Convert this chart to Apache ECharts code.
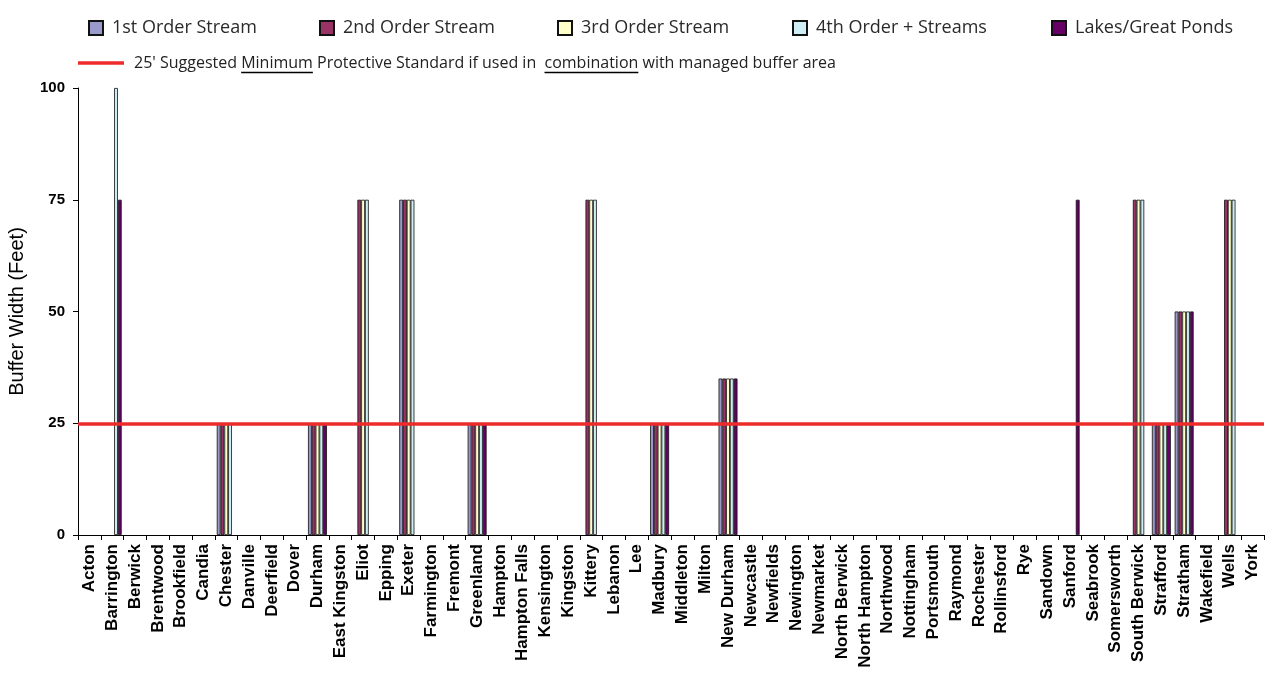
<!DOCTYPE html>
<html><head><meta charset="utf-8">
<script src="https://cdn.jsdelivr.net/npm/echarts@6/dist/echarts.min.js"></script>
<style>html,body{margin:0;padding:0;background:#fff}#c{width:1270px;height:675px}</style>
</head><body><div id="c"></div>
<script>
const towns = ['Acton','Barrington','Berwick','Brentwood','Brookfield','Candia','Chester','Danville','Deerfield','Dover',
 'Durham','East Kingston','Eliot','Epping','Exeter','Farmington','Fremont','Greenland','Hampton','Hampton Falls',
 'Kensington','Kingston','Kittery','Lebanon','Lee','Madbury','Middleton','Milton','New Durham','Newcastle',
 'Newfields','Newington','Newmarket','North Berwick','North Hampton','Northwood','Nottingham','Portsmouth','Raymond','Rochester',
 'Rollinsford','Rye','Sandown','Sanford','Seabrook','Somersworth','South Berwick','Strafford','Stratham','Wakefield',
 'Wells','York'];
const firstOrder = [0,0,0,0,0,0,25,0,0,0, 25,0,0,0,75,0,0,25,0,0, 0,0,0,0,0,25,0,0,35,0, 0,0,0,0,0,0,0,0,0,0, 0,0,0,0,0,0,0,25,50,0, 0,0];
const secondOrder = [0,0,0,0,0,0,25,0,0,0, 25,0,75,0,75,0,0,25,0,0, 0,0,75,0,0,25,0,0,35,0, 0,0,0,0,0,0,0,0,0,0, 0,0,0,0,0,0,75,25,50,0, 75,0];
const thirdOrder = [0,0,0,0,0,0,25,0,0,0, 25,0,75,0,75,0,0,25,0,0, 0,0,75,0,0,25,0,0,35,0, 0,0,0,0,0,0,0,0,0,0, 0,0,0,0,0,0,75,25,50,0, 75,0];
const fourthOrder = [0,100,0,0,0,0,25,0,0,0, 25,0,75,0,75,0,0,25,0,0, 0,0,75,0,0,25,0,0,35,0, 0,0,0,0,0,0,0,0,0,0, 0,0,0,0,0,0,75,25,50,0, 75,0];
const lakes = [0,75,0,0,0,0,0,0,0,0, 25,0,0,0,0,0,0,25,0,0, 0,0,0,0,0,25,0,0,35,0, 0,0,0,0,0,0,0,0,0,0, 0,0,0,75,0,0,0,25,50,0, 0,0];
const seriesNames = ['1st Order Stream','2nd Order Stream','3rd Order Stream','4th Order + Streams','Lakes/Great Ponds'];
const standardValue = 25;
const yTicks = [0,25,50,75,100];
const noteParts = ["25' Suggested ", "Minimum", " Protective Standard if used in  ", "combination", " with managed buffer area"];

const colors = ['#9999CC','#993366','#FFFFCC','#CCEEF4','#660066'];
const seriesData = [firstOrder, secondOrder, thirdOrder, fourthOrder, lakes];
const legendLeft = [83, 314, 552, 787, 1046];

const chart = echarts.init(document.getElementById('c'), null, {renderer:'canvas'});

const noteFont = '16px "Open Sans"';
const cv = document.createElement('canvas').getContext('2d');
cv.font = noteFont;
const noteX = 134, noteY = 63;
const w = s => cv.measureText(s).width;
const u1s = noteX + w(noteParts[0]);
const u1e = u1s + w(noteParts[1]);
const u2s = noteX + w(noteParts[0]+noteParts[1]+noteParts[2]);
const u2e = u2s + w(noteParts[3]);
const uy = noteY + 9.5;

const series = seriesNames.map((n,i)=>({
  name:n, type:'bar', data:seriesData[i].map(v => v === 0 ? '-' : v), barGap:'0%', barCategoryGap:'17%',
  itemStyle:{color:colors[i], borderColor:'#111', borderWidth:0.8},
  emphasis:{disabled:true}, animation:false
}));
series.push({
  name:'standard', type:'line', data:[], animation:false,
  markLine:{silent:true, symbol:['none','none'], label:{show:false},
    lineStyle:{color:'#EE2B2B', width:3.5, type:'solid'},
    data:[{yAxis:standardValue}], animation:false}
});

chart.setOption({
  animation:false,
  backgroundColor:'#fff',
  legend: seriesNames.map((n,i)=>({
    data:[{name:n, icon:'rect'}], left:legendLeft[i], top:14, itemWidth:14, itemHeight:14, itemGap:0,
    selectedMode:false,
    textStyle:{fontFamily:'Open Sans', fontSize:18, color:'#2a2a2a', padding:[0,0,0,4]}
  })),
  grid:{left:78, right:6, top:88, bottom:140, containLabel:false, outerBoundsMode:'none'},
  xAxis:{type:'category', data:towns, boundaryGap:true,
    axisLine:{lineStyle:{color:'#000', width:1}},
    axisTick:{show:true, alignWithLabel:false, interval:0, length:5, lineStyle:{color:'#000'}},
    axisLabel:{interval:0, rotate:90, margin:9, color:'#000', fontFamily:'Liberation Sans', fontWeight:'bold', fontSize:17}
  },
  yAxis:{type:'value', min:0, max:100, interval:25,
    name:'Buffer Width (Feet)', nameLocation:'middle', nameGap:51,
    nameTextStyle:{fontFamily:'Liberation Sans', fontSize:20, color:'#000'},
    axisLine:{show:true, lineStyle:{color:'#000'}},
    axisTick:{show:true, length:5, lineStyle:{color:'#000'}},
    splitLine:{show:false},
    axisLabel:{color:'#000', fontFamily:'Liberation Sans', fontWeight:'bold', fontSize:15, margin:13,
      formatter: v => yTicks.includes(v) ? String(v) : ''}
  },
  graphic:[
    {type:'line', shape:{x1:78,y1:noteY,x2:124,y2:noteY}, style:{stroke:'#EE2B2B', lineWidth:3.5}},
    {type:'text', x:noteX, y:noteY, style:{text:noteParts.join(''), font:noteFont, fill:'#222', verticalAlign:'middle'}},
    {type:'line', shape:{x1:u1s,y1:uy,x2:u1e,y2:uy}, style:{stroke:'#000', lineWidth:1.5}},
    {type:'line', shape:{x1:u2s,y1:uy,x2:u2e,y2:uy}, style:{stroke:'#000', lineWidth:1.5}}
  ],
  series: series
});
</script></body></html>
